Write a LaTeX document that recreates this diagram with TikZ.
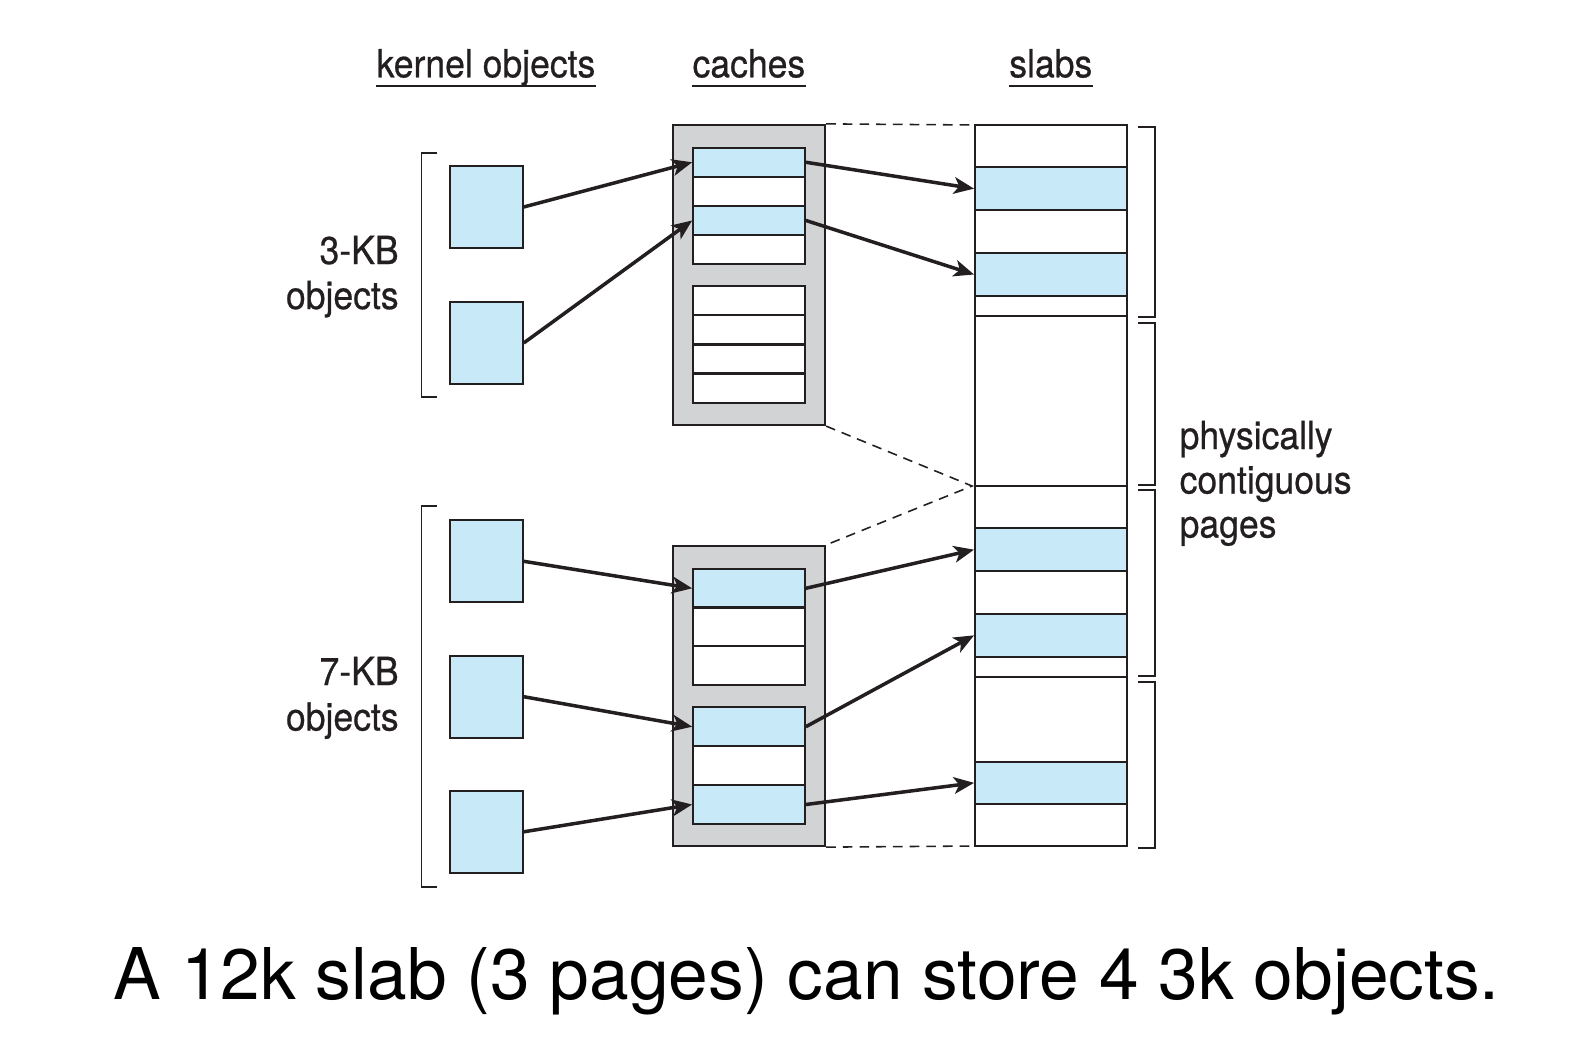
\documentclass[tikz,border=0pt]{standalone}
\usepackage{fontspec}
\setmainfont{TeX Gyre Heros}
\newfontfamily\lblfont[FakeBold=0.6,FakeStretch=0.92]{TeX Gyre Heros}
\usetikzlibrary{arrows.meta,calc}
\definecolor{objblue}{RGB}{199,233,248}
\definecolor{cachegray}{RGB}{209,211,212}
\definecolor{ink}{RGB}{35,31,32}
\begin{document}
\begin{tikzpicture}[x=0.02cm,y=-0.02cm,
  lbl/.style={inner sep=0pt,text=ink,font=\lblfont\fontsize{22}{25}\selectfont},
  obj/.style={draw=ink,line width=1.1pt,fill=objblue,inner sep=0pt,minimum width=1.454cm,minimum height=1.64cm},
  cachebox/.style={draw=ink,line width=1.3pt,fill=cachegray,inner sep=0pt,minimum width=3.046cm,minimum height=6cm},
  slot/.style={draw=ink,line width=1.3pt,inner sep=0pt,minimum width=2.228cm},
  slabobj/.style={draw=ink,line width=1.1pt,fill=objblue,inner sep=0pt,minimum width=3.034cm,minimum height=0.85cm},
  ptr/.style={draw=ink,line width=2pt,-{Stealth[length=11.5pt,width=9.5pt,inset=3pt]}},
  guide/.style={draw=ink,line width=0.9pt,dash pattern=on 5.5pt off 4pt},
  brack/.style={draw=ink,line width=1pt},
  uline/.style={draw=ink,line width=1.2pt}]
\useasboundingbox (0,0) rectangle (1588,1051);
\node[lbl,anchor=base] (kern) at (486,77.3) {kernel objects};
\node[lbl,anchor=base] (cach) at (748.9,77.3) {caches};
\node[lbl,anchor=base] (slab) at (1050.8,77.3) {slabs};
\foreach \n in {kern,cach,slab}
  \draw[uline] ($(\n.base west)+(0,8.4)$) -- ($(\n.base east)+(0,8.4)$);
\node[lbl,anchor=base east] (kb3) at (399,264) {3-KB};
\node[lbl,anchor=base east] (kb3o) at (399,309) {objects};
\node[lbl,anchor=base east] (kb7) at (399,685) {7-KB};
\node[lbl,anchor=base east] (kb7o) at (399,730.5) {objects};
\node[lbl,anchor=base west] (phys) at (1179.3,449) {physically};
\node[lbl,anchor=base west] (cont) at (1179.3,493.5) {contiguous};
\node[lbl,anchor=base west] (pgs) at (1179.3,537.5) {pages};
\foreach \t/\b in {153/397,506/887}
  \draw[brack] (437,\t) -- (421.5,\t) -- (421.5,\b) -- (437,\b);
\node[obj] (o1) at (486.4,207) {};
\node[obj] (o2) at (486.4,343) {};
\node[obj] (o3) at (486.4,561.3) {};
\node[obj] (o4) at (486.4,696.7) {};
\node[obj] (o5) at (486.4,831.8) {};
\node[cachebox] (cacheA) at (748.85,275) {};
\node[cachebox] (cacheB) at (748.85,696) {};
\foreach \i/\c in {0/objblue,1/white,2/objblue,3/white}
  \node[slot,fill=\c,minimum height=0.582cm] (ca\i) at (749,{162.25+29.1*\i}) {};
\foreach \i in {0,...,3}
  \node[slot,fill=white,minimum height=0.582cm] (cb\i) at (749,{300.6+29.2*\i}) {};
\foreach \i/\c in {0/objblue,1/white,2/white}
  \node[slot,fill=\c,minimum height=0.776cm] (cc\i) at (749,{588.3+38.7*\i}) {};
\foreach \i/\c in {0/objblue,1/white,2/objblue}
  \node[slot,fill=\c,minimum height=0.776cm] (cd\i) at (749,{726.7+38.9*\i}) {};
\foreach \t/\b in {125/167.3,167.3/210,210/253.3,253.3/295.7,295.7/315.7,315.7/486,486/528.3,528.3/571,571/614,614/656.7,656.7/676.7,676.7/761.7,761.7/804,804/846}
  \draw[brack,fill=white] (975,\t) rectangle (1126.7,\b);
\node[slabobj] (s1) at (1050.85,188.65) {};
\node[slabobj] (s2) at (1050.85,274.5) {};
\node[slabobj] (s3) at (1050.85,549.65) {};
\node[slabobj] (s4) at (1050.85,635.35) {};
\node[slabobj] (s5) at (1050.85,782.85) {};
\coordinate (slabtop) at (975,125);
\coordinate (slabmid) at (972,486);
\coordinate (slabbot) at (975,846);
\draw[guide] (cacheA.north east) -- (slabtop);
\draw[guide] (cacheA.south east) -- (slabmid) -- (cacheB.north east);
\draw[guide] (cacheB.south east) -- (slabbot);
\foreach \t/\b in {126.7/316.7,323.3/485,490/676,681.7/848.3}
  \draw[brack] (1138,\t) -- (1155,\t) -- (1155,\b) -- (1138,\b);
\draw[ptr] (o1.east) -- (ca0.west);
\draw[ptr] (o2.east) -- (ca2.west);
\draw[ptr] (o3.east) -- (cc0.west);
\draw[ptr] (o4.east) -- (cd0.west);
\draw[ptr] (o5.east) -- (cd2.west);
\draw[ptr] (ca0.east) -- (s1.west);
\draw[ptr] (ca2.east) -- (s2.west);
\draw[ptr] (cc0.east) -- (s3.west);
\draw[ptr] (cd0.east) -- (s4.west);
\draw[ptr] (cd2.east) -- (s5.west);
\node[anchor=base west,inner sep=0pt,font=\fontsize{40.6}{48}\selectfont] (cap) at (113.4,999) {A 12k slab (3 pages) can store 4 3k objects.};
\end{tikzpicture}
\end{document}
